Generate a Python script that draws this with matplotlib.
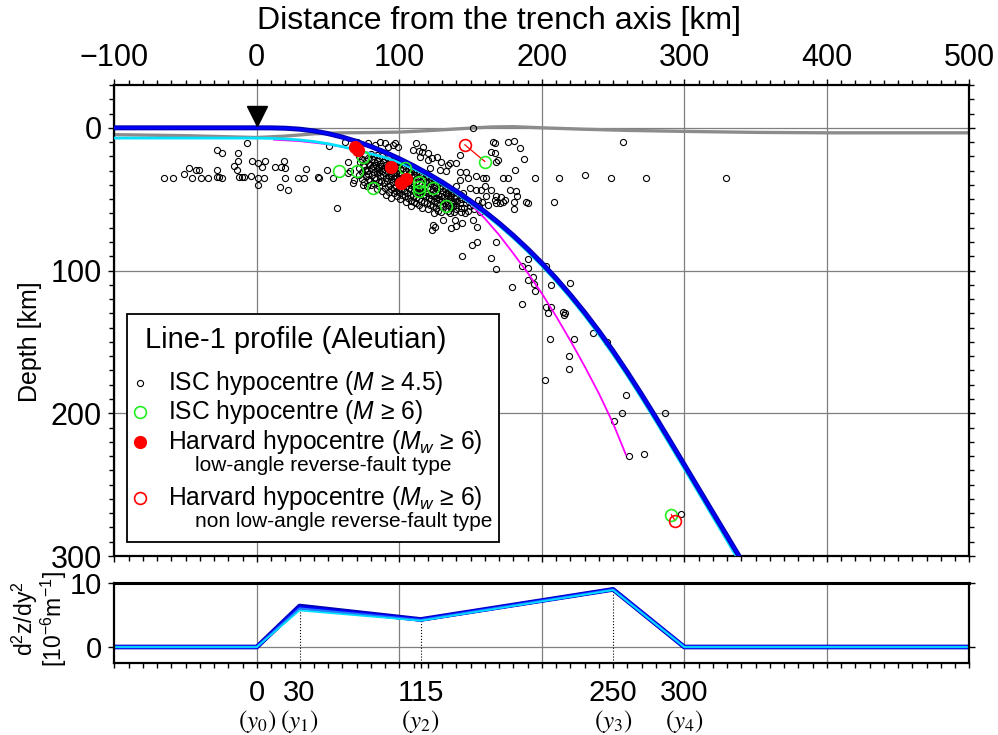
import numpy as np
import matplotlib
matplotlib.use('Agg')
import matplotlib.pyplot as plt
from matplotlib.patches import Rectangle
from matplotlib.ticker import MultipleLocator, FixedLocator
from matplotlib.transforms import blended_transform_factory

plt.rcParams['font.family'] = ['Liberation Sans', 'DejaVu Sans']
plt.rcParams['mathtext.fontset'] = 'custom'
plt.rcParams['mathtext.rm'] = 'Liberation Sans'
plt.rcParams['mathtext.it'] = 'Liberation Sans:italic'
NARROW = ['Liberation Sans Narrow', 'Liberation Sans', 'DejaVu Sans']

# --- data ---
# plate interface profiles (distance [km], depth [km])
prof_x = [-100, -90, -80, -70, -60, -50, -40, -30, -20, -10, 0, 10, 20, 30, 40, 50, 60, 70, 80, 90,
          100, 110, 120, 130, 140, 150, 160, 170, 180, 190, 200, 210, 220, 230, 240, 250, 260, 270,
          280, 290, 300, 310, 320, 330, 340]
depth_blue = [0, 0, 0, 0, 0, 0, 0, 0, 0, 0, 0, 0.04, 0.28, 0.95, 2.2, 4.06, 6.51, 9.51, 13.06, 17.11,
              21.65, 26.66, 32.11, 38.01, 44.39, 51.29, 58.74, 66.77, 75.43, 84.75, 94.75, 105.48,
              116.98, 129.26, 142.38, 156.37, 171.22, 186.78, 202.89, 219.36, 236.0, 252.7, 269.4,
              286.0, 302.7]
depth_cyan = [7.2, 7.2, 7.2, 7.2, 7.2, 7.2, 7.2, 7.2, 7.2, 7.2, 7.2, 7.4, 7.8, 8.5, 9.6, 11.2, 13.2,
              15.6, 18.2, 20.8, 24.3, 28.6, 33.6, 39.4, 45.8, 52.9, 60.4, 68.5, 77.2, 86.6, 96.7,
              107.5, 119.1, 131.5, 144.7, 158.8, 173.7, 189.4, 205.6, 222.2, 238.9, 255.7, 272.5,
              289.3, 306.1]
# magenta profile
mag_x = [12, 30, 50, 70, 90, 110, 130, 140, 150, 160, 170, 180, 190, 200, 210, 220, 230, 240, 250, 259]
mag_d = [8.3, 9.3, 11.5, 15.3, 20.5, 28, 38.5, 45.5, 53.5, 63.5, 75, 88, 101.5, 116, 132, 149, 167,
         186, 207, 229]
# seafloor (gray)
topo_x = [-100, -50, 0, 20, 40, 60, 80, 100, 120, 140, 150, 165, 180, 200, 230, 260, 300, 350, 400, 500]
topo_d = [4.8, 5.5, 6.8, 5.8, 4.2, 3.5, 3.3, 3.0, 2.0, 0.8, 0.2, -0.6, -0.8, 0.0, 1.0, 1.8, 2.5, 3.2,
          3.5, 3.5]

# ISC hypocentres M>=4.5 (distance, depth)
isc_small = [
    (-65, 35.2), (-58.5, 35.2), (-51, 32.2), (-47.6, 28.2), (-45.7, 35.2), (-42.9, 29.4), (-40.6, 29.4),
    (-39.4, 35.2), (-34.3, 35.2), (-28.2, 15.4), (-24.5, 17.7), (-28.2, 29.4), (-28.2, 34.6),
    (-26.6, 34.6), (-24.3, 35.2), (-16.1, 27.1), (-14.2, 29.9), (-13.3, 17.7), (-13.1, 22.9),
    (-12.6, 34.8), (-10.7, 34.8), (-9.1, 34.8), (-6.8, 10.3), (-4.4, 34.1), (-3.3, 22.9), (0.7, 24.7),
    (3.7, 27.8), (6, 23.1), (0.7, 35), (4.9, 35), (0.7, 40.4),
    (13, 27.8), (17.3, 27.8), (20, 28.2), (19, 23.1), (16.6, 41.5), (21.7, 43.9), (19.6, 35.2),
    (28.7, 35.2), (32.9, 35.2), (34.5, 28.7), (42.7, 34.6), (43.8, 35.2), (49.2, 29.4), (51, 12.4),
    (53.8, 35.2), (56.2, 56.2), (62, 10), (63.9, 23.6), (65.5, 30.6), (67.4, 38.7), (64.3, 31.7),
    (68.5, 36.4), (70.1, 9.6), (71.3, 13.1),
    (78.3, 10.7), (83, 11.9), (86.5, 9.6), (90, 10.7), (92.3, 13.1), (95.8, 11.9), (97, 10.7),
    (99.3, 13.1), (109.8, 15.4), (111.7, 10.7), (114, 15.9), (116.8, 13.1), (115.6, 16.6), (114.5, 20.1),
    (120.3, 17.7), (122.6, 21.2), (126.8, 20.1), (120.3, 22.4), (129.6, 23.6), (135.4, 24.7),
    (133.1, 30.6), (128.5, 29.4), (121.5, 28.2), (134.3, 25.9), (140.1, 24.7), (142.4, 18.9),
    (142.4, 31.3), (147.1, 31.3), (148.3, 35.2), (142.4, 36.4), (140.1, 41.1), (136.6, 45.7),
    (144.8, 45.7), (149.4, 42.2), (154.1, 43.4), (154.1, 34.1), (158.7, 35.2), (161, 35.2),
    (159.9, 41.1), (157.5, 43.4), (164.5, 43.4), (165.7, 9.6), (166.9, 10.7), (164.5, 16.6),
    (166.9, 17.7), (168, 23.6), (169.2, 22.4), (172.7, 35.2), (176.2, 9.6), (180.4, 8.9), (184.4, 14.2),
    (187.4, 21.9), (180.9, 29.4), (176.2, 35.2), (194.9, 35.2), (211.9, 35.2), (230.5, 32.9),
    (248.5, 35.2), (272.9, 35.2), (257.3, 10), (329.6, 35.2), (151.7, 0.2),
    (155.2, 50.4), (161, 48.1), (166.9, 50.4), (168, 48.1), (171.5, 48.5), (173.9, 50.4), (177.4, 43.4),
    (182, 44.6), (180.4, 57), (182.7, 48.1), (180.4, 52), (189, 52), (208.9, 52), (168, 52.5),
    (162.2, 53.9), (170.4, 52.7), (157.8, 52), (173, 52.3), (190.5, 52.5),
    (123.8, 67.9), (130.8, 64.4), (122.6, 71.4), (138.9, 64.4), (144.3, 66.7), (140.1, 69.1),
    (151.7, 64.4), (154.8, 69.8), (125, 69.8), (136.6, 70.2), (151.3, 82.4), (154.8, 80), (144.1, 89.6),
    (167.6, 80), (164.1, 91.3), (168, 99), (190.2, 91.9), (186.2, 96.6), (190.2, 98.3), (203, 96.6),
    (190.2, 106.4), (193.7, 104.8), (194.4, 109.5), (194.9, 114.6), (179.2, 111.8), (206.5, 110.4),
    (219.8, 108.8), (186.2, 123.5), (203, 125.8), (206.5, 125.6), (204.2, 129.8), (214.7, 129),
    (215.9, 131.4), (216.3, 129.8),
    (201.9, 176.5), (206.1, 147.8), (222.8, 147.8), (219.4, 160.1), (219.4, 168.8), (235.7, 144),
    (245.7, 150), (259, 187.4), (256.2, 199.8), (250.8, 205.7), (286.5, 199.8), (261.3, 229.7),
    (271.8, 228.3), (297.4, 270.3),
    # dense cluster along the slab top
    (72, 20), (72.5, 24), (71.5, 28), (72, 33),
    (74, 22), (74.5, 26), (73.5, 31), (74, 36), (74.5, 40),
    (76, 19), (76.5, 23), (75.5, 27), (76, 29.5), (76.5, 34), (75.5, 38),
    (78, 21), (78.5, 25), (77.5, 30), (78, 32.5), (78.5, 36), (77.5, 41),
    (80, 18), (80.5, 22), (79.5, 26), (80, 28.5), (80.5, 33), (79.5, 37), (80, 40),
    (82, 20), (82.5, 24), (81.5, 27), (82, 31), (82.5, 35), (81.5, 39),
    (84, 19), (84.5, 23), (83.5, 26), (84, 29), (84.5, 32), (83.5, 36), (84, 43),
    (86, 21), (86.5, 25), (85.5, 28), (86, 31), (86.5, 34), (85.5, 38), (86, 41),
    (88, 20), (88.5, 24), (87.5, 27), (88, 30), (88.5, 33), (87.5, 37), (88, 44),
    (90, 22), (90.5, 26), (89.5, 29), (90, 32), (90.5, 35), (89.5, 39), (90, 42), (90.5, 47),
    (92, 21), (92.5, 24), (91.5, 28), (92, 31), (92.5, 34), (91.5, 37), (92, 41), (92.5, 45),
    (94, 23), (94.5, 27), (93.5, 30), (94, 33), (94.5, 36), (93.5, 40), (94, 43), (94.5, 49),
    (96, 22), (96.5, 25), (95.5, 29), (96, 32), (96.5, 35), (95.5, 38), (96, 42), (96.5, 46),
    (98, 24), (98.5, 28), (97.5, 31), (98, 34), (98.5, 37), (97.5, 41), (98, 44), (98.5, 48),
    (100, 26), (100.5, 29), (99.5, 32), (100, 35), (100.5, 38), (99.5, 42), (100, 45), (100.5, 50),
    (102, 25), (102.5, 28), (101.5, 33), (102, 36), (102.5, 40), (101.5, 43), (102, 47),
    (104, 27), (104.5, 30), (103.5, 34), (104, 37), (104.5, 41), (103.5, 44), (104, 48), (104.5, 52),
    (106, 29), (106.5, 32), (105.5, 35), (106, 39), (106.5, 42), (105.5, 46), (106, 49),
    (108, 28), (108.5, 31), (107.5, 36), (108, 40), (108.5, 43), (107.5, 47), (108, 51), (108.5, 55),
    (110, 30), (110.5, 33), (109.5, 37), (110, 41), (110.5, 44), (109.5, 48), (110, 52),
    (112, 32), (112.5, 35), (111.5, 38), (112, 42), (112.5, 45), (111.5, 49), (112, 53),
    (114, 31), (114.5, 34), (113.5, 39), (114, 43), (114.5, 46), (113.5, 50), (114, 54),
    (116, 33), (116.5, 36), (115.5, 40), (116, 44), (116.5, 47), (115.5, 51), (116, 56),
    (118, 35), (118.5, 38), (117.5, 41), (118, 45), (118.5, 48), (117.5, 52),
    (120, 34), (120.5, 37), (119.5, 42), (120, 46), (120.5, 49), (119.5, 53), (120, 57),
    (122, 36), (122.5, 39), (121.5, 43), (122, 47), (122.5, 50), (121.5, 54),
    (124, 38), (124.5, 41), (123.5, 44), (124, 48), (124.5, 51), (123.5, 55), (124, 60),
    (126, 40), (126.5, 43), (125.5, 46), (126, 49), (126.5, 53), (125.5, 56),
    (128, 39), (128.5, 42), (127.5, 47), (128, 50), (128.5, 54), (127.5, 58),
    (130, 41), (130.5, 44), (129.5, 48), (130, 51), (130.5, 55), (129.5, 59),
    (132, 43), (132.5, 46), (131.5, 49), (132, 53), (132.5, 57),
    (134, 45), (134.5, 48), (133.5, 51), (134, 54), (134.5, 58),
    (136, 44), (136.5, 47), (135.5, 50), (136, 53), (136.5, 56), (135.5, 60),
    (138, 46), (138.5, 49), (137.5, 52), (138, 55), (138.5, 59),
    (140, 48), (140.5, 51), (139.5, 54), (140, 57),
    (143, 47), (143.5, 50), (142.5, 53), (143, 56), (143.5, 59),
    (146, 50), (146.5, 53), (145.5, 56), (146, 60),
    (149, 52), (149.5, 55), (148.5, 58),
    (152, 54), (152.5, 57), (156, 55), (156.5, 59),
]
# ISC hypocentres M>=6
isc_big = [(58, 30.1), (70.1, 30.1), (74.6, 20.7), (81.8, 42.2), (103.8, 28.2), (113.8, 38.3),
           (113.8, 41.5), (113.8, 44.6), (123.3, 42.2), (132.5, 55.1), (160, 23.6), (290.9, 271)]
# Harvard low-angle reverse-fault type
harv_low = [(69, 13.5), (71, 15.5), (94, 27.5), (101, 39), (105, 36)]
# Harvard other types
harv_other = [(146, 11.9), (293.5, 275.2)]

# d2z/dy2 [1e-6 /m]
curv_x = [-100, 0, 30, 115, 250, 300, 500]
curv_1 = [0, 0, 6.4, 4.3, 9.0, 0, 0]
curv_2 = [0, 0, 6.2, 4.25, 9.0, 0, 0]
curv_3 = [0, 0, 6.0, 4.2, 8.95, 0, 0]
curv_4 = [0, 0, 5.7, 4.1, 8.9, 0, 0]
knot_x = [0, 30, 115, 250, 300]
knot_lab = ['$(y_0)$', '$(y_1)$', '$(y_2)$', '$(y_3)$', '$(y_4)$']

W, H = 998, 735
fig = plt.figure(figsize=(W / 100, H / 100), dpi=100)
L, R = 114.3, 969.3
ax = fig.add_axes([L / W, 1 - 556 / H, (R - L) / W, (556 - 85) / H])
ax2 = fig.add_axes([L / W, 1 - 663 / H, (R - L) / W, (663 - 583) / H])

grid_c = '#7f7f7f'

# ---- top panel ----
ax.set_xlim(-100, 500)
ax.set_ylim(300, -30)
ax.xaxis.set_major_locator(MultipleLocator(100))
ax.xaxis.set_minor_locator(MultipleLocator(10))
ax.yaxis.set_major_locator(FixedLocator([0, 100, 200, 300]))
ax.yaxis.set_minor_locator(MultipleLocator(10))
ax.grid(which='major', color=grid_c, lw=0.9, zorder=0)
ax.set_axisbelow(True)
ax.tick_params(which='both', direction='out', top=True, bottom=True, left=True, right=True,
               labeltop=True, labelbottom=False, width=1.0)
ax.tick_params(which='major', length=4, pad=5)
ax.tick_params(which='minor', length=3.5)
ax.set_xticks([-100, 0, 100, 200, 300, 400, 500])
ax.set_xticklabels(['\u2212100', '0', '100', '200', '300', '400', '500'], family=NARROW, fontsize=22)
ax.set_yticklabels(['0', '100', '200', '300'], family=NARROW, fontsize=22)
for s in ax.spines.values():
    s.set_linewidth(1.6)

ax.plot(topo_x, topo_d, color='#8c8c8c', lw=2.4, zorder=1)

isc = np.array(isc_small)
ax.plot(isc[:, 0], isc[:, 1], 'o', mfc='none', mec='k', ms=4.4, mew=0.8, zorder=2)

ho = np.array(harv_other)
big = np.array(isc_big)
# ISC / Harvard pairs of the same events
ax.plot([ho[0, 0], big[10, 0]], [ho[0, 1], big[10, 1]], color='red', lw=0.9, zorder=2)
ax.plot([ho[1, 0], big[11, 0]], [ho[1, 1], big[11, 1]], color='red', lw=0.9, zorder=2)

ax.plot(mag_x, mag_d, color='#ff00ff', lw=1.3, zorder=3)
ax.plot(prof_x, depth_cyan, color='#00e0ff', lw=2.0, zorder=3)
ax.plot(prof_x, depth_blue, color='#0000b4', lw=3.6, zorder=4)
ax.plot(prof_x, depth_blue, color='#0000ff', lw=1.8, zorder=4)

ax.plot(big[:, 0], big[:, 1], 'o', mfc='none', mec='#22ee22', ms=8.5, mew=1.2, zorder=5)
hl = np.array(harv_low)
ax.plot(hl[:, 0], hl[:, 1], 'o', mfc='red', mec='red', ms=8.5, zorder=5)
ax.plot(ho[:, 0], ho[:, 1], 'o', mfc='none', mec='red', ms=8.5, mew=1.2, zorder=5)

# trench axis
ax.plot([0], [-8], 'v', color='k', ms=15, zorder=6, clip_on=False)

# legend box
ax.add_patch(Rectangle((-90.9, 130.4), 260.9, 159.7, facecolor='white', edgecolor='k', lw=1.3, zorder=7))
ax.text(-78.5, 148.6, 'Line-1 profile (Aleutian)', fontsize=21, va='center', ha='left', zorder=8)
mx, tx, sx = -82, -62.1, -43.4
rows = [179, 198.9, 219.9, 259.6]
ax.plot([mx], [rows[0]], 'o', mfc='none', mec='k', ms=4.4, mew=0.8, zorder=8)
ax.plot([mx], [rows[1]], 'o', mfc='none', mec='#22ee22', ms=8.5, mew=1.2, zorder=8)
ax.plot([mx], [rows[2]], 'o', mfc='red', mec='red', ms=8.5, zorder=8)
ax.plot([mx], [rows[3]], 'o', mfc='none', mec='red', ms=8.5, mew=1.2, zorder=8)
ax.text(tx, rows[0], 'ISC hypocentre ($M$ \u2265 4.5)', fontsize=17.7, va='center', zorder=8)
ax.text(tx, rows[1], 'ISC hypocentre ($M$ \u2265 6)', fontsize=17.7, va='center', zorder=8)
ax.text(tx, rows[2], 'Harvard hypocentre ($M_w$ \u2265 6)', fontsize=17.7, va='center', zorder=8)
ax.text(sx, 236.3, 'low-angle reverse-fault type', fontsize=15, va='center', zorder=8)
ax.text(tx, rows[3], 'Harvard hypocentre ($M_w$ \u2265 6)', fontsize=17.7, va='center', zorder=8)
ax.text(sx, 276, 'non low-angle reverse-fault type', fontsize=15, va='center', zorder=8)

fig.text(0.5, 1 - 21 / H, 'Distance from the trench axis [km]', family=NARROW,
         fontsize=23, ha='center', va='center')
fig.text(30 / W, 1 - 342 / H, 'Depth [km]', fontsize=18, rotation=90, ha='center', va='center')

# ---- bottom panel ----
ax2.set_xlim(-100, 500)
ax2.set_ylim(-2.5, 10)
for xv in [0, 100, 200, 300, 400]:
    ax2.axvline(xv, color=grid_c, lw=0.9, zorder=0)
ax2.axhline(0, color=grid_c, lw=0.9, zorder=0)
ax2.xaxis.set_major_locator(FixedLocator(knot_x))
ax2.xaxis.set_minor_locator(MultipleLocator(10))
ax2.set_xticklabels([str(v) for v in knot_x], family=NARROW, fontsize=21)
ax2.set_yticks([0, 10])
ax2.set_yticklabels(['0', '10'], family=NARROW, fontsize=21)
ax2.tick_params(which='both', direction='out', top=False, bottom=True, left=True, right=True, width=1.0)
ax2.tick_params(axis='x', which='major', length=3.5, pad=8)
ax2.tick_params(axis='x', which='minor', length=3.5)
ax2.tick_params(axis='y', which='major', length=4, pad=5)
for s in ax2.spines.values():
    s.set_linewidth(1.6)
ax2.spines['top'].set_linewidth(2.2)

ax2.vlines(knot_x[1:4], -2.5, curv_1[2:5], colors='k', linestyles=':', lw=0.8, zorder=1)
ax2.plot(curv_x, curv_1, color='#0000b4', lw=3.4, zorder=2)
ax2.plot(curv_x, curv_2, color='#0000ff', lw=2.6, zorder=2)
ax2.plot(curv_x, curv_3, color='#1e78ff', lw=1.8, zorder=2)
ax2.plot(curv_x, curv_4, color='#00e0ff', lw=1.2, zorder=2)

tr = blended_transform_factory(ax2.transData, ax2.transAxes)
for xv, lab in zip(knot_x, knot_lab):
    ax2.text(xv, -0.73, lab, transform=tr, fontsize=18, ha='center', va='center',
             math_fontfamily='stix')

fig.text(25 / W, 1 - 619 / H, r'd$^2$z/dy$^2$', fontsize=16.5, rotation=90, ha='center', va='center')
fig.text(54 / W, 1 - 619 / H, r'[10$^{-6}$m$^{-1}$]', fontsize=16.5, rotation=90, ha='center', va='center')

fig.savefig('out.png', dpi=100)
